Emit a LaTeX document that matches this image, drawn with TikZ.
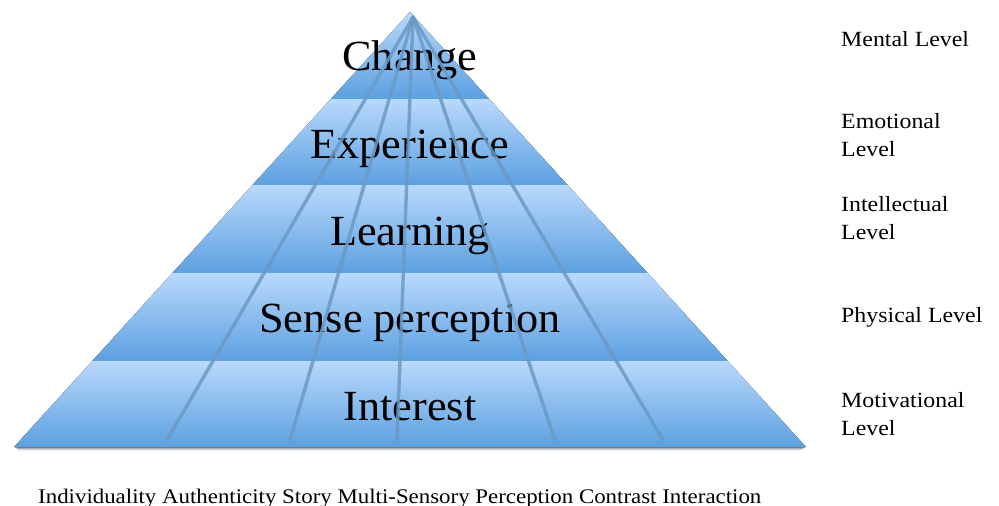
\documentclass[tikz,border=0pt]{standalone}
\usepackage{fontspec}
\setmainfont{Liberation Serif}
\newfontfamily\widefont[FakeStretch=1.1]{Liberation Serif}
\newfontfamily\bigfont[FakeStretch=1.03]{Liberation Serif}
\begin{document}
\begin{tikzpicture}[x=1pt,y=-1pt]
\definecolor{bandtop}{HTML}{B9D9FB}
\definecolor{bandbot}{HTML}{5CA0E0}
\definecolor{rib}{HTML}{6A9AC6}
\tikzset{
  band/.style={top color=bandtop, bottom color=bandbot, draw=none},
  ribline/.style={draw=rib, line width=3.4pt, opacity=0.85, line cap=round},
  bigtxt/.style={font=\bigfont\fontsize{43}{48}\selectfont, anchor=base, inner sep=0pt},
  lvl/.style={font=\widefont\fontsize{21.7}{28}\selectfont, anchor=base west, inner sep=0pt, align=left},
  foot/.style={font=\widefont\fontsize{20.8}{22}\selectfont, anchor=base west, inner sep=0pt}
}
\useasboundingbox (0,0) rectangle (999,506);
% soft shadow
\foreach \o/\op in {1/0.25,2/0.18,3/0.10,4/0.05}{
  \fill[black,opacity=\op] (14+\o,447) -- (806-\o,447) -- (806-\o-0.5,447+\o) -- (14+\o+0.5,447+\o) -- cycle;
}
% bands (x = 410 -/+ 396*(y-12)/435)
\fill[band] (410,12) -- (489.2,99) -- (330.8,99) -- cycle;
\fill[band] (330.8,99) -- (489.2,99) -- (567.5,185) -- (252.5,185) -- cycle;
\fill[band] (252.5,185) -- (567.5,185) -- (647.6,273) -- (172.4,273) -- cycle;
\fill[band] (172.4,273) -- (647.6,273) -- (727.7,361) -- (92.3,361) -- cycle;
\fill[band] (92.3,361) -- (727.7,361) -- (806,447) -- (14,447) -- cycle;
% labels
\node[bigtxt] (change) at (410,70) {Change};
\node[bigtxt] (experience) at (410,158) {Experience};
\node[bigtxt] (learning) at (410,245) {Learning};
\node[bigtxt] (sense) at (410,332) {Sense perception};
\node[bigtxt] (interest) at (410,420) {Interest};
% ribs
\coordinate (apex) at (413,17);
\coordinate (e1) at (167,440);
\coordinate (e2) at (290,440);
\coordinate (e3) at (397,440);
\coordinate (e4) at (555,440);
\coordinate (e5) at (663,440);
\foreach \e in {e1,e2,e3,e4,e5}{
  \draw[ribline] (apex) -- (\e);
}
% level labels
\node[lvl] (mental) at (841,46) {Mental Level};
\node[lvl] (emotional) at (841,156) {Emotional\\Level};
\node[lvl] (intellectual) at (841,239) {Intellectual\\Level};
\node[lvl] (physical) at (841,322) {Physical Level};
\node[lvl] (motivational) at (841,435) {Motivational\\Level};
% footer
\node[foot] (footer) at (38,503) {Individuality Authenticity Story Multi-Sensory Perception Contrast Interaction};
\end{tikzpicture}
\end{document}
